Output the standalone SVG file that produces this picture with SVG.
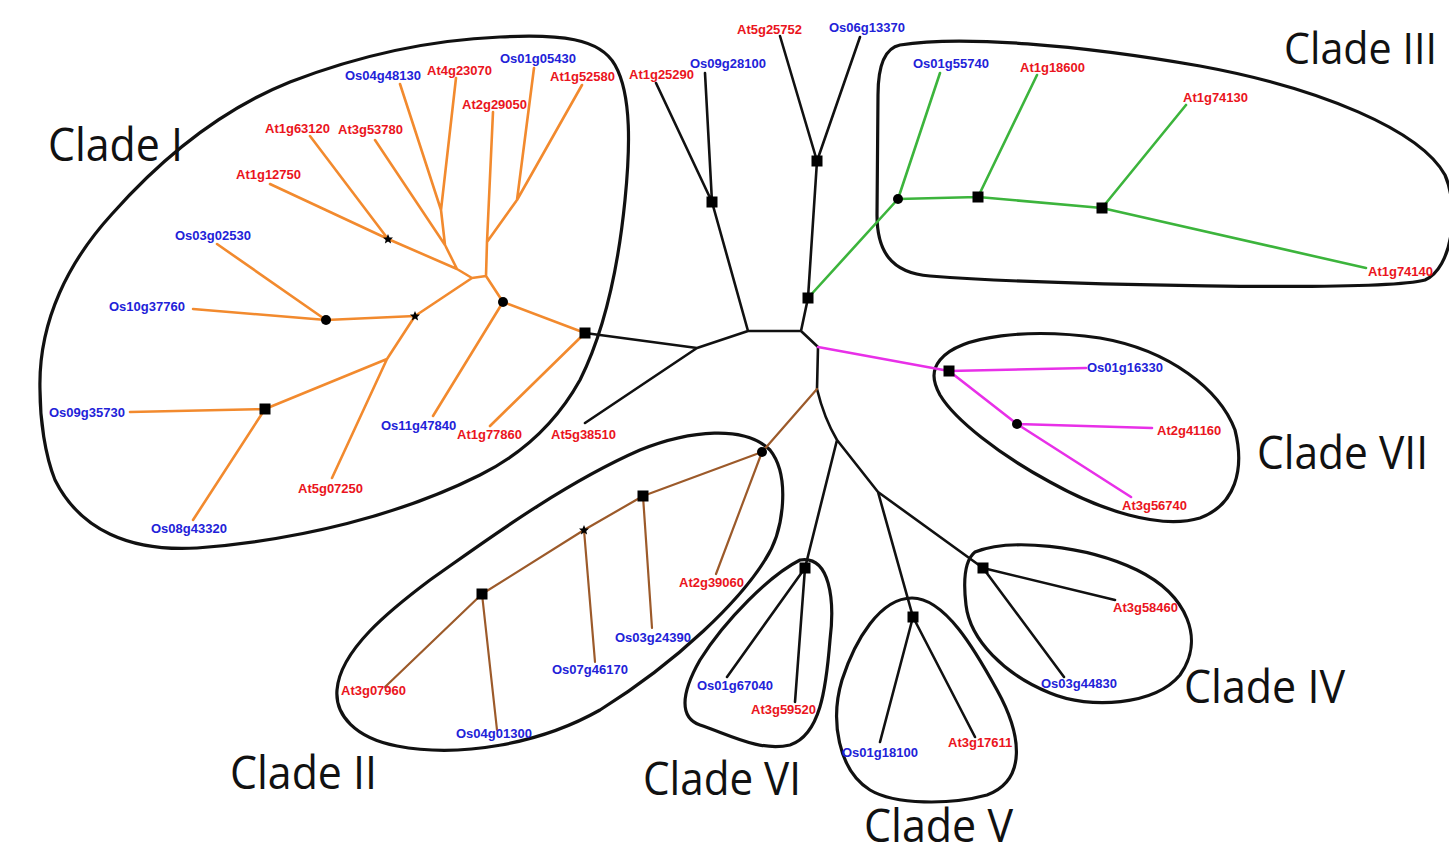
<svg xmlns="http://www.w3.org/2000/svg" xmlns:xlink="http://www.w3.org/1999/xlink" width="1449" height="853" viewBox="0 0 1449 853">
<style>
.hull{fill:none;stroke:#111;stroke-width:3.2;stroke-linejoin:round}
.br{fill:none;stroke-width:2.6;stroke-linecap:round;stroke-linejoin:round}
.k{stroke:#111}
.o{stroke:#f28a2e}
.g{stroke:#3cb43c}
.m{stroke:#e830e8}
.b{stroke:#9c5a2a;stroke-width:2.2}
.lb{font-family:"Liberation Sans",Arial,sans-serif;font-size:13px;font-weight:bold}
.at{fill:#ea1420}
.os{fill:#2222d8}
.cl{font-family:"Open Sans","Liberation Sans",sans-serif;font-size:46px;fill:#111}
</style>
<defs>
<rect id="sq" x="-5.5" y="-5.5" width="11" height="11" fill="#000"/>
<circle id="ci" r="5" fill="#000"/>
<path id="st" d="M0,-5 L1.5,-1.6 5,-1.4 2.3,1 3.1,4.6 0,2.6 -3.1,4.6 -2.3,1 -5,-1.4 -1.5,-1.6Z" fill="#000"/>
</defs>
<rect width="1449" height="853" fill="#fff"/>

<g id="hulls">
<path id="hull-I" class="hull" d="M40,390 C38,320 70,260 112,214 C160,160 220,110 290,82 C360,55 430,40 500,37 C560,34 600,38 615,65 C632,95 630,150 625,200 C618,270 605,330 580,380 C555,425 520,455 480,475 C400,515 300,540 197,548 C130,552 80,530 55,480 C45,455 40,420 40,390Z"/>
<path id="hull-II" class="hull" d="M337,690 C340,650 390,610 430,580 C480,545 560,485 640,450 C690,430 745,425 770,450 C790,475 785,530 765,560 C740,600 680,660 600,710 C540,744 460,758 397,746 C355,738 335,715 337,690Z"/>
<path id="hull-III" class="hull" d="M900,45 C960,35 1080,45 1200,66 C1320,88 1420,130 1445,175 C1460,210 1452,268 1425,280 C1380,292 1050,285 930,276 C890,273 877,250 877,215 L878,95 C878,65 885,48 900,45Z"/>
<path id="hull-IV" class="hull" d="M975,552 C1010,538 1085,545 1137,570 C1188,595 1205,640 1180,675 C1155,705 1090,710 1050,693 C1005,675 970,640 966,605 C963,580 965,560 975,552Z"/>
<path id="hull-V" class="hull" d="M912,598 C945,598 975,650 997,690 C1022,735 1027,780 987,795 C950,805 895,805 870,790 C838,770 830,720 842,680 C855,640 880,598 912,598Z"/>
<path id="hull-VI" class="hull" d="M800,560 C830,555 835,600 830,640 C826,690 820,735 790,745 C760,752 730,735 700,725 C680,718 680,695 700,660 C725,620 770,575 800,560Z"/>
<path id="hull-VII" class="hull" d="M940,360 C960,335 1030,328 1100,338 C1170,350 1220,390 1235,430 C1245,470 1235,505 1200,518 C1160,530 1100,510 1050,482 C1000,455 955,420 940,395 C932,380 932,370 940,360Z"/>
</g>

<g id="connectors">
<path class="br o" d="M585,333 L503,302 M585,333 L490,426 M503,302 L486,276 M503,302 L433,416 M486,276 L472,278 M486,276 L487,242 M487,242 L493,112 M487,242 L517,200 M517,200 L534,68 M517,200 L582,85 M472,278 L457,269 M472,278 L415,316 M457,269 L445,245 M445,245 L375,140 M445,245 L441,210 M441,210 L400,84 M441,210 L456,78 M457,269 L388,239 M388,239 L310,136 M388,239 L270,184 M415,316 L326,320 M326,320 L217,244 M326,320 L193,309 M415,316 L387,359 M387,359 L265,409 M387,359 L332,478 M265,409 L130,412 M265,409 L193,520"/>
<path class="br k" d="M585,333 L697,348 M697,348 L585,423 M697,348 L748,331 L801,331 M748,331 L712,202 M712,202 L656,83 M712,202 L705,73 M801,331 L808,298 L817,161 M817,161 L780,36 M817,161 L860,37 M801,331 L818,347 L817,389 Q824,418 837,440 M837,440 L805,568 M837,440 L878,492 M878,492 L913,617 M878,492 L983,568 M805,568 L727,677 M805,568 L795,702 M913,617 L880,742 M913,617 L975,737 M983,568 L1115,600 M983,568 L1064,677"/>
<path class="br g" d="M808,298 L898,199 M898,199 L940,73 M898,199 L978,197 M978,197 L1037,75 M978,197 L1102,208 M1102,208 L1186,105 M1102,208 L1366,268"/>
<path class="br m" d="M818,347 L949,371 M949,371 L1086,368 M949,371 L1017,424 M1017,424 L1152,428 M1017,424 L1131,497"/>
<path class="br b" d="M817,389 L762,452 M762,452 L716,574 M762,452 L643,496 M643,496 L652,628 M643,496 L584,530 M584,530 L595,662 M584,530 L482,594 M482,594 L385,687 M482,594 L497,730"/>
</g>

<g id="internal-nodes">
<use xlink:href="#sq" x="585" y="333"/>
<use xlink:href="#ci" x="503" y="302"/>
<use xlink:href="#st" x="388" y="239"/>
<use xlink:href="#st" x="415" y="316"/>
<use xlink:href="#ci" x="326" y="320"/>
<use xlink:href="#sq" x="265" y="409"/>
<use xlink:href="#sq" x="712" y="202"/>
<use xlink:href="#sq" x="817" y="161"/>
<use xlink:href="#sq" x="808" y="298"/>
<use xlink:href="#ci" x="898" y="199"/>
<use xlink:href="#sq" x="978" y="197"/>
<use xlink:href="#sq" x="1102" y="208"/>
<use xlink:href="#sq" x="949" y="371"/>
<use xlink:href="#ci" x="1017" y="424"/>
<use xlink:href="#ci" x="762" y="452"/>
<use xlink:href="#sq" x="643" y="496"/>
<use xlink:href="#st" x="584" y="530"/>
<use xlink:href="#sq" x="482" y="594"/>
<use xlink:href="#sq" x="805" y="568"/>
<use xlink:href="#sq" x="913" y="617"/>
<use xlink:href="#sq" x="983" y="568"/>
</g>

<g class="lb">
<g id="n-Os04g48130"><text class="os" x="345" y="80">Os04g48130</text></g>
<g id="n-At4g23070"><text class="at" x="427" y="75">At4g23070</text></g>
<g id="n-Os01g05430"><text class="os" x="500" y="63">Os01g05430</text></g>
<g id="n-At1g52580"><text class="at" x="550" y="81">At1g52580</text></g>
<g id="n-At2g29050"><text class="at" x="462" y="109">At2g29050</text></g>
<g id="n-At1g63120"><text class="at" x="265" y="133">At1g63120</text></g>
<g id="n-At3g53780"><text class="at" x="338" y="134">At3g53780</text></g>
<g id="n-At1g12750"><text class="at" x="236" y="179">At1g12750</text></g>
<g id="n-Os03g02530"><text class="os" x="175" y="240">Os03g02530</text></g>
<g id="n-Os10g37760"><text class="os" x="109" y="311">Os10g37760</text></g>
<g id="n-Os09g35730"><text class="os" x="49" y="417">Os09g35730</text></g>
<g id="n-Os08g43320"><text class="os" x="151" y="533">Os08g43320</text></g>
<g id="n-At5g07250"><text class="at" x="298" y="493">At5g07250</text></g>
<g id="n-Os11g47840"><text class="os" x="381" y="430">Os11g47840</text></g>
<g id="n-At1g77860"><text class="at" x="457" y="439">At1g77860</text></g>
<g id="n-At5g38510"><text class="at" x="551" y="439">At5g38510</text></g>
<g id="n-At1g25290"><text class="at" x="629" y="79">At1g25290</text></g>
<g id="n-Os09g28100"><text class="os" x="690" y="68">Os09g28100</text></g>
<g id="n-At5g25752"><text class="at" x="737" y="34">At5g25752</text></g>
<g id="n-Os06g13370"><text class="os" x="829" y="32">Os06g13370</text></g>
<g id="n-Os01g55740"><text class="os" x="913" y="68">Os01g55740</text></g>
<g id="n-At1g18600"><text class="at" x="1020" y="72">At1g18600</text></g>
<g id="n-At1g74130"><text class="at" x="1183" y="102">At1g74130</text></g>
<g id="n-At1g74140"><text class="at" x="1368" y="276">At1g74140</text></g>
<g id="n-Os01g16330"><text class="os" x="1087" y="372">Os01g16330</text></g>
<g id="n-At2g41160"><text class="at" x="1157" y="435">At2g41160</text></g>
<g id="n-At3g56740"><text class="at" x="1122" y="510">At3g56740</text></g>
<g id="n-At2g39060"><text class="at" x="679" y="587">At2g39060</text></g>
<g id="n-Os03g24390"><text class="os" x="615" y="642">Os03g24390</text></g>
<g id="n-Os07g46170"><text class="os" x="552" y="674">Os07g46170</text></g>
<g id="n-At3g07960"><text class="at" x="341" y="695">At3g07960</text></g>
<g id="n-Os04g01300"><text class="os" x="456" y="738">Os04g01300</text></g>
<g id="n-Os01g67040"><text class="os" x="697" y="690">Os01g67040</text></g>
<g id="n-At3g59520"><text class="at" x="751" y="714">At3g59520</text></g>
<g id="n-Os01g18100"><text class="os" x="842" y="757">Os01g18100</text></g>
<g id="n-At3g17611"><text class="at" x="948" y="747">At3g17611</text></g>
<g id="n-At3g58460"><text class="at" x="1113" y="612">At3g58460</text></g>
<g id="n-Os03g44830"><text class="os" x="1041" y="688">Os03g44830</text></g>
</g>

<g id="clade-labels" class="cl">
<text x="48" y="161" textLength="135" lengthAdjust="spacingAndGlyphs">Clade I</text>
<text x="1284" y="64" font-size="43" textLength="153" lengthAdjust="spacingAndGlyphs">Clade III</text>
<text x="1257" y="469" textLength="171" lengthAdjust="spacingAndGlyphs">Clade VII</text>
<text x="1184" y="703" textLength="161" lengthAdjust="spacingAndGlyphs">Clade IV</text>
<text x="230" y="789" textLength="147" lengthAdjust="spacingAndGlyphs">Clade II</text>
<text x="643" y="795" textLength="158" lengthAdjust="spacingAndGlyphs">Clade VI</text>
<text x="864" y="842" textLength="149" lengthAdjust="spacingAndGlyphs">Clade V</text>
</g>
</svg>
